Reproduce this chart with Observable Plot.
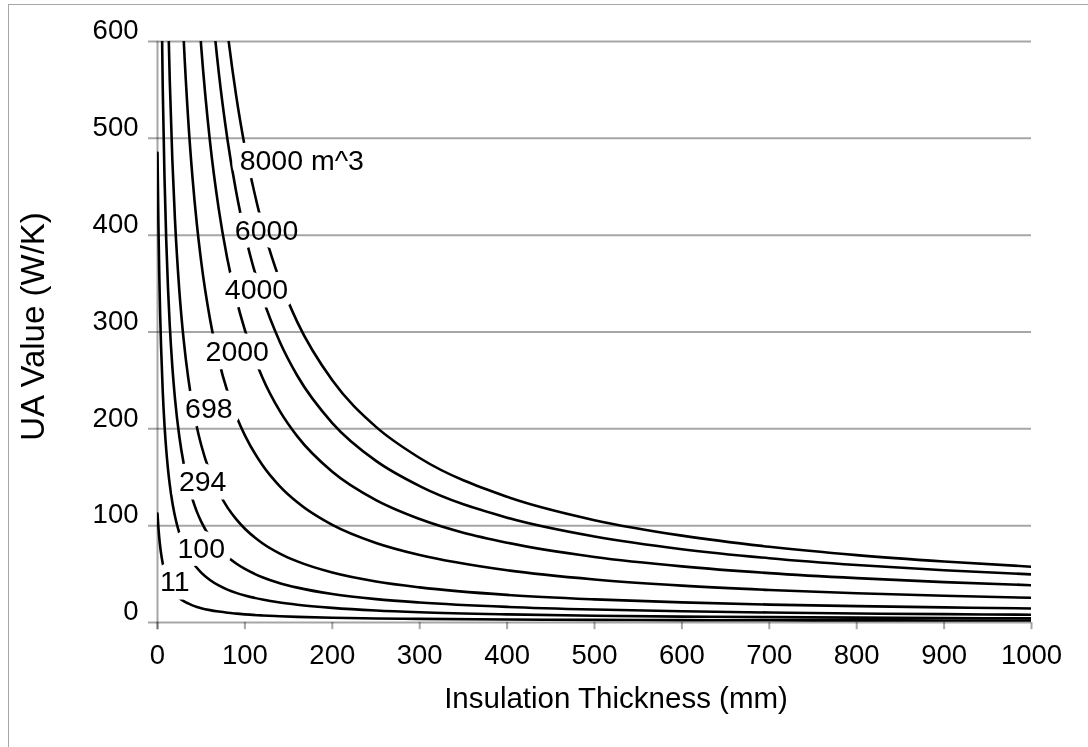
<!DOCTYPE html>
<html><head><meta charset="utf-8">
<script src="https://cdn.jsdelivr.net/npm/d3@7"></script>
<script src="https://cdn.jsdelivr.net/npm/@observablehq/plot@0.6"></script>
<style>
html,body{margin:0;padding:0;background:#fff;}
#wrap{position:relative;width:1088px;height:747px;overflow:hidden;}
#border{position:absolute;left:8px;top:4px;width:1200px;height:900px;border-top:1.5px solid #a6a6a6;border-left:1.5px solid #a6a6a6;box-sizing:border-box;pointer-events:none;}
#chart{position:absolute;left:0;top:0;}
</style></head><body>
<div id="wrap"><div id="border"></div><div id="chart"></div></div>
<script>
// Insulation thickness samples (mm)
const thickness = [0, 1, 2, 3, 4, 6, 8, 10, 12, 14, 17, 20, 25, 30, 35, 40, 45, 50, 60, 70, 80, 90, 100, 120, 140, 160, 200, 250, 300, 400, 500, 600, 700, 800, 900, 1000];

// UA values (W/K), one array per tank volume
const ua11 = [112.6, 98.6, 87.7, 79.0, 71.9, 61.0, 53.0, 46.9, 42.0, 38.1, 33.5, 29.9, 25.4, 22.1, 19.7, 17.7, 16.1, 14.8, 12.8, 11.3, 10.1, 9.2, 8.4, 7.3, 6.5, 5.8, 4.9, 4.2, 3.7, 3.1, 2.7, 2.5, 2.3, 2.2, 2.1, 2.0];
const ua100 = [485.0, 413.6, 360.6, 319.6, 287.1, 238.5, 204.1, 178.4, 158.5, 142.6, 124.0, 109.8, 92.2, 79.5, 69.9, 62.5, 56.5, 51.5, 43.9, 38.3, 34.0, 30.6, 27.9, 23.7, 20.6, 18.3, 15.1, 12.4, 10.6, 8.4, 7.0, 6.1, 5.5, 5.0, 4.6, 4.3];
const ua294 = [null, null, null, 786.8, 688.8, 551.5, 460.0, 394.6, 345.6, 307.5, 263.9, 231.3, 191.8, 164.0, 143.3, 127.3, 114.5, 104.2, 88.3, 76.7, 67.9, 60.9, 55.3, 46.8, 40.6, 36.0, 29.4, 24.1, 20.6, 16.1, 13.4, 11.6, 10.3, 9.3, 8.6, 8.0];
const ua698 = [null, null, null, null, null, null, null, 731.7, 634.8, 560.7, 477.4, 415.8, 342.5, 291.3, 253.7, 224.8, 201.9, 183.3, 155.0, 134.5, 118.9, 106.7, 96.8, 81.9, 71.2, 63.1, 51.6, 42.4, 36.3, 28.5, 23.9, 20.8, 18.5, 16.9, 15.6, 14.5];
const ua2000 = [null, null, null, null, null, null, null, null, null, null, null, null, 711.8, 601.6, 521.2, 459.9, 411.7, 372.7, 313.7, 271.0, 238.7, 213.5, 193.2, 162.6, 140.6, 124.1, 100.8, 82.1, 69.6, 53.9, 44.4, 38.1, 33.6, 30.2, 27.6, 25.5];
const ua4000 = [null, null, null, null, null, null, null, null, null, null, null, null, null, null, null, 741.0, 659.7, 594.7, 497.1, 427.4, 375.1, 334.5, 301.9, 253.1, 218.3, 192.2, 155.6, 126.3, 106.8, 82.4, 67.7, 58.0, 51.0, 45.8, 41.7, 38.5];
const ua6000 = [null, null, null, null, null, null, null, null, null, null, null, null, null, null, null, null, null, 792.1, 661.9, 568.8, 499.1, 444.8, 401.4, 336.2, 289.7, 254.8, 206.0, 166.9, 140.9, 108.3, 88.8, 75.7, 66.4, 59.4, 54.0, 49.7];
const ua8000 = [null, null, null, null, null, null, null, null, null, null, null, null, null, null, null, null, null, null, 811.4, 696.9, 610.9, 544.1, 490.7, 410.5, 353.2, 310.2, 250.1, 202.0, 169.9, 129.8, 105.7, 89.7, 78.2, 69.6, 63.0, 57.6];

const seriesNames = ["11", "100", "294", "698", "2000", "4000", "6000", "8000"];
const seriesValues = [ua11, ua100, ua294, ua698, ua2000, ua4000, ua6000, ua8000];

// Curve labels
const labelText = ["8000 m^3", "6000", "4000", "2000", "698", "294", "100", "11"];
const labelT = [94, 88.5, 77, 55, 31.5, 24.5, 22.8, 3];
const labelUA = [477, 404, 344, 279, 221, 145, 76.4, 42.4];

const xTicks = [0, 100, 200, 300, 400, 500, 600, 700, 800, 900, 1000];
const yTicks = [0, 100, 200, 300, 400, 500, 600];
const xTitle = "Insulation Thickness (mm)";
const yTitle = "UA Value (W/K)";

const rows = [];
seriesNames.forEach((name, i) => {
  seriesValues[i].forEach((v, j) => {
    if (v != null) rows.push({series: name, t: thickness[j], ua: v});
  });
});
const labels = labelText.map((text, i) => ({text, t: labelT[i], ua: labelUA[i]}));

const grid = "#a6a6a6";
const chart = Plot.plot({
  width: 1088,
  height: 747,
  marginLeft: 157,
  marginRight: 57,
  marginTop: 41,
  marginBottom: 125,
  style: {fontFamily: "'Liberation Sans', Arial, sans-serif", background: "transparent", overflow: "visible"},
  x: {domain: [0, 1000], label: null},
  y: {domain: [0, 600], label: null},
  marks: [
    Plot.line(rows, {x: "t", y: "ua", z: "series", stroke: "#000", strokeWidth: 2.6, curve: "monotone-x", clip: true}),
    Plot.text(labels, {x: "t", y: "ua", text: "text", textAnchor: "start", fontSize: 28.5, fill: "#000", stroke: "#fff", strokeWidth: 17, strokeLinejoin: "round"}),
    Plot.ruleY(yTicks, {x1: -10.3, x2: 1000, stroke: grid, strokeWidth: 2, mixBlendMode: "multiply"}),
    Plot.ruleX(xTicks, {y1: 0, y2: -7.4, stroke: grid, strokeWidth: 2, mixBlendMode: "multiply"}),
    Plot.ruleX([0], {y1: -7.4, y2: 600, stroke: grid, strokeWidth: 2, mixBlendMode: "multiply"}),
    Plot.axisX(xTicks, {tickSize: 0, tickPadding: 22, fontSize: 27.5, fill: "#000", tickFormat: d => String(d), label: null}),
    Plot.axisY(yTicks, {tickSize: 0, tickPadding: 19, fontSize: 27.5, fill: "#000", dy: -11, tickFormat: d => String(d), label: null}),
    Plot.text([xTitle], {text: d => d, frameAnchor: "bottom", textAnchor: "middle", dx: 21.5, dy: 85, fontSize: 29.5, fill: "#000"}),
    Plot.text([yTitle], {text: d => d, frameAnchor: "left", textAnchor: "middle", rotate: -90, dx: -124, dy: -5.5, fontSize: 33, fill: "#000"})
  ]
});
document.getElementById("chart").appendChild(chart);
</script>
</body></html>
